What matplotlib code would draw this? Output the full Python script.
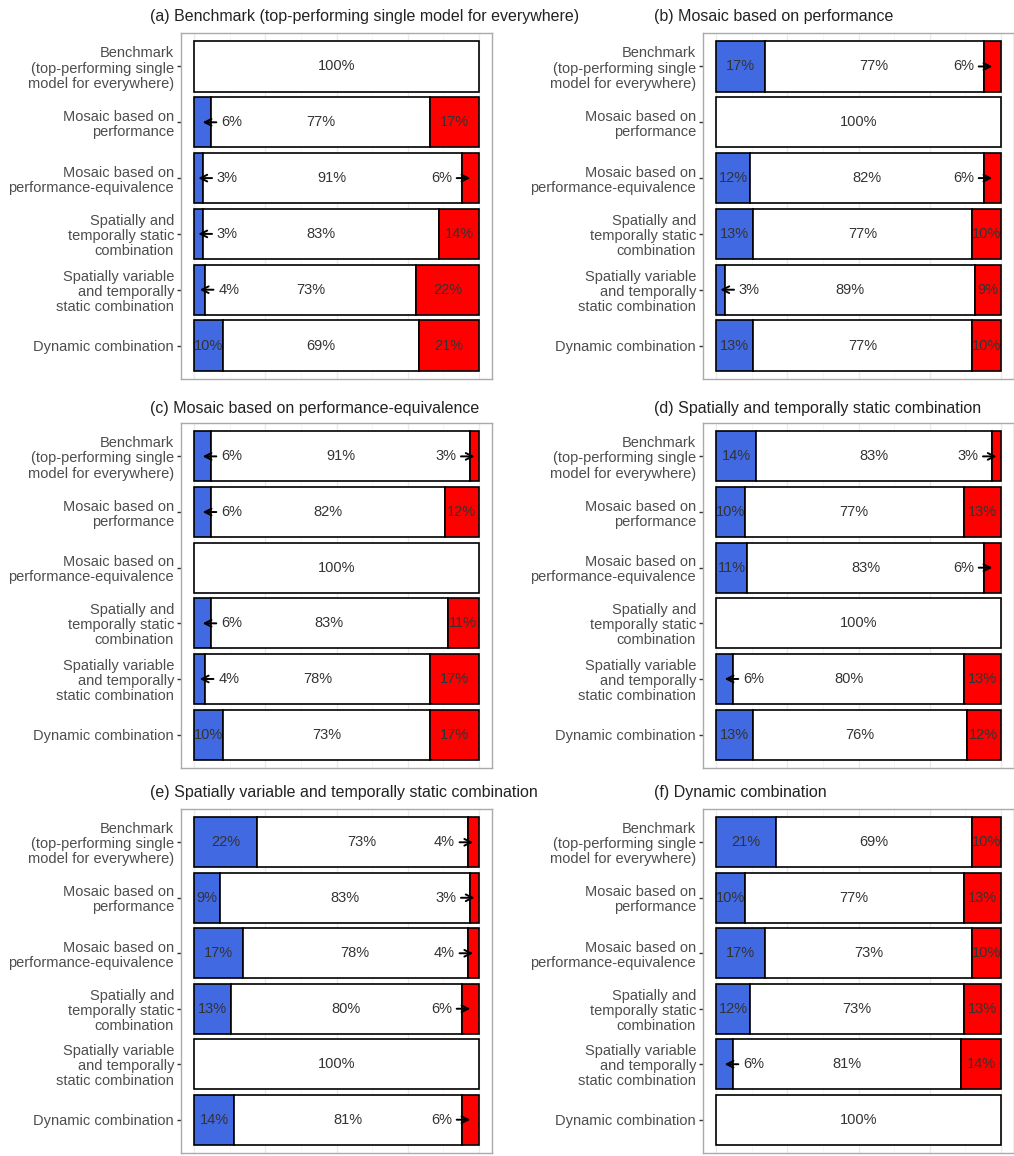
import matplotlib.pyplot as plt

plt.rcParams['font.family'] = ['Liberation Sans', 'DejaVu Sans']

# row labels (top to bottom)
methods = [
    "Benchmark\n(top-performing single\nmodel for everywhere)",
    "Mosaic based on\nperformance",
    "Mosaic based on\nperformance-equivalence",
    "Spatially and\ntemporally static\ncombination",
    "Spatially variable\nand temporally\nstatic combination",
    "Dynamic combination",
]

titles = [
    "(a) Benchmark (top-performing single model for everywhere)",
    "(b) Mosaic based on performance",
    "(c) Mosaic based on performance-equivalence",
    "(d) Spatially and temporally static combination",
    "(e) Spatially variable and temporally static combination",
    "(f) Dynamic combination",
]

# blue / white / red shares (%) per panel, rows in the order of `methods`
blue_a = [0, 6, 3, 3, 4, 10]
white_a = [100, 77, 91, 83, 73, 69]
red_a = [0, 17, 6, 14, 22, 21]

blue_b = [17, 0, 12, 13, 3, 13]
white_b = [77, 100, 82, 77, 89, 77]
red_b = [6, 0, 6, 10, 9, 10]

blue_c = [6, 6, 0, 6, 4, 10]
white_c = [91, 82, 100, 83, 78, 73]
red_c = [3, 12, 0, 11, 17, 17]

blue_d = [14, 10, 11, 0, 6, 13]
white_d = [83, 77, 83, 100, 80, 76]
red_d = [3, 13, 6, 0, 13, 12]

blue_e = [22, 9, 17, 13, 0, 14]
white_e = [73, 83, 78, 80, 100, 81]
red_e = [4, 3, 4, 6, 0, 6]

blue_f = [21, 10, 17, 12, 6, 0]
white_f = [69, 77, 73, 73, 81, 100]
red_f = [10, 13, 10, 13, 14, 0]

panels = [
    (blue_a, white_a, red_a),
    (blue_b, white_b, red_b),
    (blue_c, white_c, red_c),
    (blue_d, white_d, red_d),
    (blue_e, white_e, red_e),
    (blue_f, white_f, red_f),
]

W, H = 1014, 1156
fig = plt.figure(figsize=(W / 100, H / 100), dpi=100)

col_x = [181, 703]
ax_w = 311
rows_y = [(33, 379), (423, 768), (809, 1153)]
title_x = [150, 654]
title_y = [17, 408, 792]

txt_col = '#333333'
lab_col = '#4D4D4D'
small = 6
arr = dict(arrowstyle='->', lw=1.4, color='black', shrinkA=0, shrinkB=0,
           mutation_scale=12)

for i, (blue, white, red) in enumerate(panels):
    r, c = divmod(i, 2)
    top, bot = rows_y[r]
    ax = fig.add_axes([col_x[c] / W, 1 - bot / H, ax_w / W, (bot - top) / H])
    ypos = [6, 5, 4, 3, 2, 1]

    ax.set_xlim(-4.6, 104.6)
    ax.set_ylim(0.4, 6.6)
    for gx in [0, 25, 50, 75, 100]:
        ax.axvline(gx, color='#EBEBEB', lw=1, zorder=0)
    for gx in [12.5, 37.5, 62.5, 87.5]:
        ax.axvline(gx, color='#F3F3F3', lw=0.5, zorder=0)

    for y, b, w, rd in zip(ypos, blue, white, red):
        kw = dict(height=0.9, edgecolor='black', linewidth=1.2, zorder=2)
        if b > 0:
            ax.barh(y, b, left=0, color='royalblue', **kw)
        ax.barh(y, 100 - b - rd, left=b, color='white', **kw)
        if rd > 0:
            ax.barh(y, rd, left=100 - rd, color='red', **kw)

        # labels
        ax.text(b + (100 - b - rd) / 2, y, f"{w}%", ha='center', va='center',
                fontsize=10.5, color=txt_col, zorder=4)
        if b > small:
            ax.text(b / 2, y, f"{b}%", ha='center', va='center',
                    fontsize=10.5, color=txt_col, zorder=4)
        elif b > 0:
            ax.annotate('', xy=(b / 2, y), xytext=(b / 2 + 4.8, y),
                        arrowprops=arr, zorder=5)
            ax.text(b / 2 + 6.5, y, f"{b}%", ha='left', va='center',
                    fontsize=10.5, color=txt_col, zorder=4)
        if rd > small:
            ax.text(100 - rd / 2, y, f"{rd}%", ha='center', va='center',
                    fontsize=10.5, color=txt_col, zorder=4)
        elif rd > 0:
            ax.annotate('', xy=(100 - rd / 2, y), xytext=(100 - rd / 2 - 4.8, y),
                        arrowprops=arr, zorder=5)
            ax.text(100 - rd / 2 - 6.5, y, f"{rd}%", ha='right', va='center',
                    fontsize=10.5, color=txt_col, zorder=4)

    ax.set_yticks(ypos)
    ax.set_yticklabels(methods, fontsize=10.5, color=lab_col, linespacing=1.1)
    ax.tick_params(axis='y', length=3, width=1, color=txt_col, pad=2)
    ax.set_xticks([])
    for s in ax.spines.values():
        s.set_color('#AAAAAA')
        s.set_linewidth(1)

    fig.text(title_x[c] / W, 1 - title_y[r] / H, titles[i], ha='left',
             va='center', fontsize=11.5, color='#222222')

fig.savefig('out.png', dpi=100)
